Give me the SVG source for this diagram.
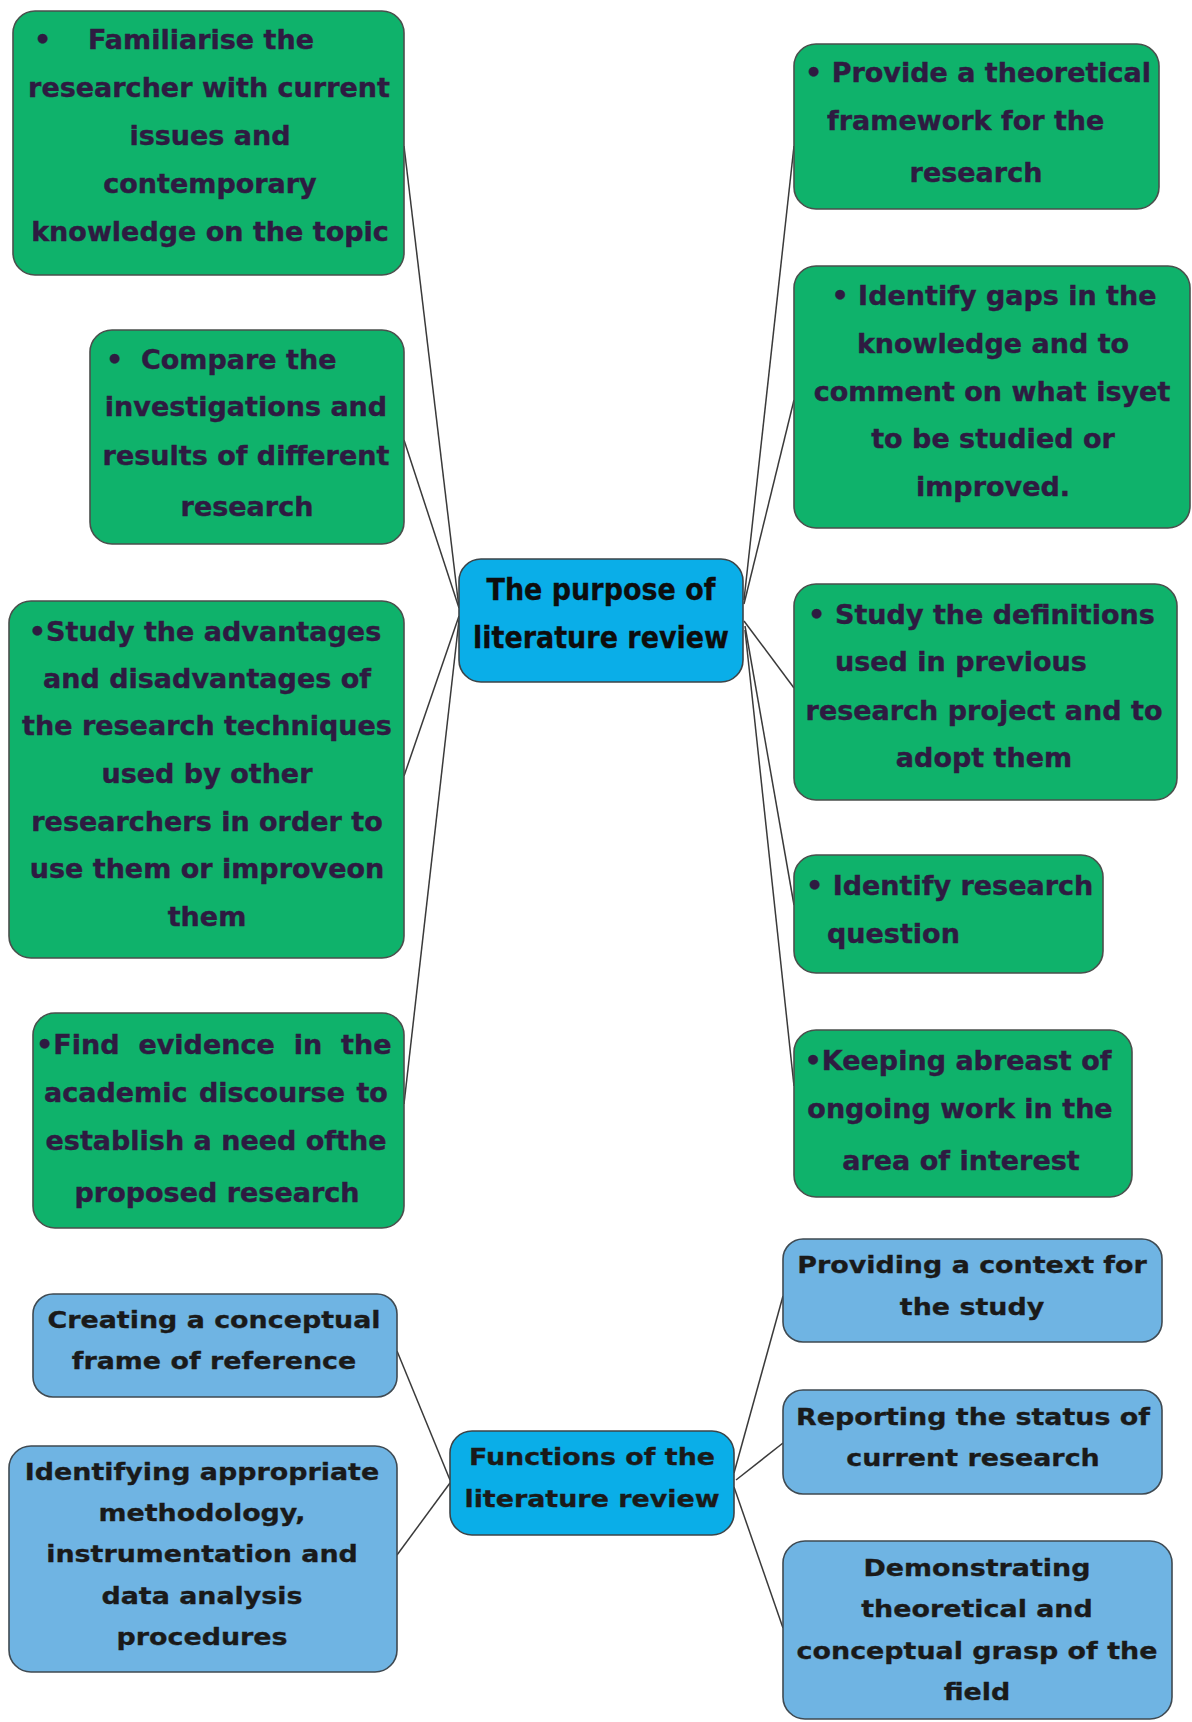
<svg xmlns="http://www.w3.org/2000/svg" width="1192" height="1722" viewBox="0 0 1192 1722">
<style>
  .bg { fill: #ffffff; }
  .g { fill: #0fb26b; stroke: #4a4f4c; stroke-width: 1.6; }
  .c { fill: #0aaee8; stroke: #3c4448; stroke-width: 1.6; }
  .lb { fill: #6fb4e3; stroke: #3f4a52; stroke-width: 1.6; }
  .gt { font-family: "DejaVu Sans", Verdana, sans-serif; font-weight: bold; font-size: 27px; fill: #2e1b41; stroke: #2e1b41; stroke-width: 0.4; }
  .ct { font-family: "DejaVu Sans", Verdana, sans-serif; font-weight: bold; font-size: 30px; fill: #0d0d0d; stroke: #0d0d0d; stroke-width: 0.3; }
  .bt { font-family: "DejaVu Sans", Verdana, sans-serif; font-weight: bold; font-size: 23px; fill: #1a1a1a; stroke: #1a1a1a; stroke-width: 0.3; }
  .conn line { stroke: #3a3a3a; stroke-width: 1.5; fill: none; }
</style>
<rect class="bg" x="0" y="0" width="1192" height="1722"/>

<g id="connectors" class="conn">
  <line x1="404" y1="146" x2="459" y2="608"/>
  <line x1="404" y1="440" x2="459" y2="608"/>
  <line x1="404" y1="776" x2="459" y2="616"/>
  <line x1="404" y1="1104" x2="459" y2="620"/>
  <line x1="794" y1="146" x2="744" y2="600"/>
  <line x1="794" y1="400" x2="744" y2="604"/>
  <line x1="744" y1="621" x2="794" y2="688"/>
  <line x1="745" y1="626" x2="794" y2="905"/>
  <line x1="745" y1="630" x2="794" y2="1086"/>
  <line x1="397" y1="1351" x2="450" y2="1480"/>
  <line x1="397" y1="1555" x2="450" y2="1483"/>
  <line x1="734" y1="1473" x2="783" y2="1296"/>
  <line x1="736" y1="1480" x2="783" y2="1443"/>
  <line x1="734" y1="1487" x2="783" y2="1628"/>
</g>

<g id="purpose">
  <rect class="c" x="459" y="559" width="284" height="123" rx="22"/>
  <text class="ct" text-anchor="middle" transform="translate(601 0) scale(0.9 1)"><tspan x="0" y="600">The purpose of</tspan><tspan x="0" y="648">literature review</tspan></text>
</g>

<g id="familiarise">
  <rect class="g" x="13" y="11" width="391" height="264" rx="22"/>
  <text class="gt"><tspan x="34" y="49">•</tspan><tspan x="88" y="49">Familiarise the</tspan></text>
  <text class="gt" text-anchor="middle"><tspan x="209" y="97">researcher with current</tspan><tspan x="210" y="145">issues and</tspan><tspan x="210" y="193">contemporary</tspan><tspan x="210" y="241">knowledge on the topic</tspan></text>
</g>

<g id="compare">
  <rect class="g" x="90" y="330" width="314" height="214" rx="22"/>
  <text class="gt"><tspan x="106" y="369">•</tspan><tspan x="141" y="369">Compare the</tspan></text>
  <text class="gt" text-anchor="middle"><tspan x="246" y="416">investigations and</tspan><tspan x="246" y="465">results of different</tspan><tspan x="247" y="516">research</tspan></text>
</g>

<g id="advantages">
  <rect class="g" x="9" y="601" width="395" height="357" rx="22"/>
  <text class="gt" text-anchor="middle"><tspan x="205" y="641">•Study the advantages</tspan><tspan x="207" y="688">and disadvantages of</tspan><tspan x="207" y="735">the research techniques</tspan><tspan x="207" y="783">used by other</tspan><tspan x="207" y="831">researchers in order to</tspan><tspan x="207" y="878">use them or improveon</tspan><tspan x="207" y="926">them</tspan></text>
</g>

<g id="evidence">
  <rect class="g" x="33" y="1013" width="371" height="215" rx="22"/>
  <text class="gt"><tspan x="36" y="1054" word-spacing="9.5">•Find evidence in the</tspan><tspan x="44" y="1102" word-spacing="2">academic discourse to</tspan></text>
  <text class="gt" text-anchor="middle"><tspan x="216" y="1150">establish a need ofthe</tspan><tspan x="217" y="1202">proposed research</tspan></text>
</g>

<g id="theoretical">
  <rect class="g" x="794" y="44" width="365" height="165" rx="22"/>
  <text class="gt"><tspan x="805" y="82">• Provide a theoretical</tspan><tspan x="827" y="130">framework for the</tspan></text>
  <text class="gt" text-anchor="middle"><tspan x="976" y="182">research</tspan></text>
</g>

<g id="gaps">
  <rect class="g" x="794" y="266" width="396" height="262" rx="22"/>
  <text class="gt" text-anchor="middle"><tspan x="994" y="305">• Identify gaps in the</tspan><tspan x="993" y="353">knowledge and to</tspan><tspan x="992" y="401">comment on what isyet</tspan><tspan x="993" y="448">to be studied or</tspan><tspan x="993" y="496">improved.</tspan></text>
</g>

<g id="definitions">
  <rect class="g" x="794" y="584" width="383" height="216" rx="22"/>
  <text class="gt"><tspan x="808" y="624">•</tspan><tspan x="835" y="624">Study the definitions</tspan><tspan x="835" y="671">used in previous</tspan></text>
  <text class="gt" text-anchor="middle"><tspan x="984" y="720">research project and to</tspan><tspan x="984" y="767">adopt them</tspan></text>
</g>

<g id="question">
  <rect class="g" x="794" y="855" width="309" height="118" rx="22"/>
  <text class="gt"><tspan x="806" y="895">• Identify research</tspan><tspan x="827" y="943">question</tspan></text>
</g>

<g id="abreast">
  <rect class="g" x="794" y="1030" width="338" height="167" rx="22"/>
  <text class="gt" text-anchor="middle"><tspan x="958" y="1070">•Keeping abreast of</tspan><tspan x="960" y="1118">ongoing work in the</tspan><tspan x="961" y="1170">area of interest</tspan></text>
</g>

<g id="functions">
  <rect class="c" x="450" y="1431" width="284" height="104" rx="22"/>
  <text class="bt" text-anchor="middle" transform="translate(592 0) scale(1.17 1)"><tspan x="0" y="1465">Functions of the</tspan><tspan x="0" y="1507">literature review</tspan></text>
</g>

<g id="conceptual-frame">
  <rect class="lb" x="33" y="1294" width="364" height="103" rx="20"/>
  <text class="bt" text-anchor="middle" transform="translate(214 0) scale(1.17 1)"><tspan x="0" y="1328">Creating a conceptual</tspan><tspan x="0" y="1369">frame of reference</tspan></text>
</g>

<g id="methodology">
  <rect class="lb" x="9" y="1446" width="388" height="226" rx="22"/>
  <text class="bt" text-anchor="middle" transform="translate(202 0) scale(1.17 1)"><tspan x="0" y="1480">Identifying appropriate</tspan><tspan x="0" y="1521">methodology,</tspan><tspan x="0" y="1562">instrumentation and</tspan><tspan x="0" y="1604">data analysis</tspan><tspan x="0" y="1645">procedures</tspan></text>
</g>

<g id="context">
  <rect class="lb" x="783" y="1239" width="379" height="103" rx="20"/>
  <text class="bt" text-anchor="middle" transform="translate(972 0) scale(1.17 1)"><tspan x="0" y="1273">Providing a context for</tspan><tspan x="0" y="1315">the study</tspan></text>
</g>

<g id="status">
  <rect class="lb" x="783" y="1390" width="379" height="104" rx="20"/>
  <text class="bt" text-anchor="middle" transform="translate(973 0) scale(1.17 1)"><tspan x="0" y="1425">Reporting the status of</tspan><tspan x="0" y="1466">current research</tspan></text>
</g>

<g id="grasp">
  <rect class="lb" x="783" y="1541" width="389" height="178" rx="22"/>
  <text class="bt" text-anchor="middle" transform="translate(977 0) scale(1.17 1)"><tspan x="0" y="1576">Demonstrating</tspan><tspan x="0" y="1617">theoretical and</tspan><tspan x="0" y="1659">conceptual grasp of the</tspan><tspan x="0" y="1700">field</tspan></text>
</g>
</svg>
